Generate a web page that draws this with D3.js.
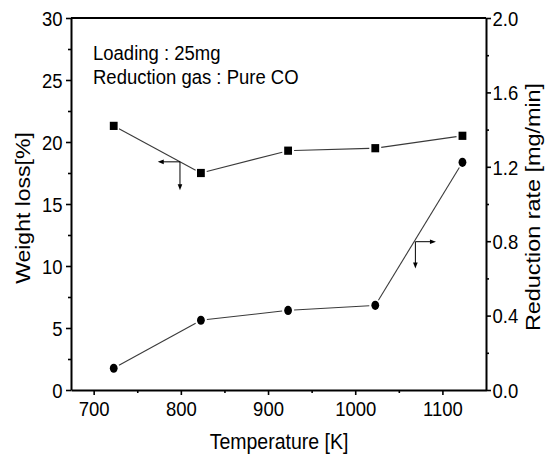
<!DOCTYPE html>
<html>
<head>
<meta charset="utf-8">
<script src="https://cdn.jsdelivr.net/npm/d3@7"></script>
<style>
  html, body { margin: 0; padding: 0; background: #fff; }
  svg { display: block; }
  text { font-family: "Liberation Sans", Arial, sans-serif; fill: #000; }
</style>
</head>
<body>
<svg id="chart" width="553" height="459"></svg>
<script>
// ---- data ----
const temperatures = [723, 823, 923, 1023, 1123];           // K
const weightLoss = [21.3, 17.5, 19.3, 19.5, 20.5];           // % (left axis)
const reductionRate = [0.117, 0.375, 0.428, 0.455, 1.224];  // mg/min (right axis)

const xTicks = [700, 800, 900, 1000, 1100];
const xMinorTicks = [750, 850, 950, 1050];
const leftTicks = [0, 5, 10, 15, 20, 25, 30];
const leftMinorTicks = [2.5, 7.5, 12.5, 17.5, 22.5, 27.5];
const rightTicks = [0, 0.4, 0.8, 1.2, 1.6, 2.0];
const rightMinorTicks = [0.2, 0.6, 1.0, 1.4, 1.8];

const annotationLines = ["Loading : 25mg", "Reduction gas : Pure CO"];
const xTitle = "Temperature [K]";
const leftTitle = "Weight loss[%]";
const rightTitle = "Reduction rate [mg/min]";

// axis-indicator arrows: corner (x in K, y in left-axis units), horizontal end x, vertical end y
const squareArrow = {x: 799, y: 18.4, hx: 773.5, vy: 16.1};
const circleArrow = {x: 1069, y: 11.96, hx: 1092.6, vy: 9.8};

// ---- layout ----
const mLeft = 71, mRight = 486, mTop = 18, mBottom = 390;
const S = 1.14; // vertical stretch of the reference text

const svg = d3.select("#chart");
const x = d3.scaleLinear().domain([674, 1150]).range([mLeft, mRight]);
const yL = d3.scaleLinear().domain([0, 30]).range([mBottom, mTop]);
const yR = d3.scaleLinear().domain([0, 2]).range([mBottom, mTop]);

function styleAxis(g, w) {
  g.select(".domain").attr("stroke", "#000").attr("stroke-width", w);
  g.selectAll(".tick line").attr("stroke", "#000").attr("stroke-width", 1.6);
}
function styleLabels(g, xPos, yPos) {
  const t = g.selectAll(".tick text").attr("font-size", 18.5).attr("dy", null)
    .attr("y", yPos).attr("transform", `scale(1,${S})`)
    .attr("font-family", "Liberation Sans, Arial, sans-serif").attr("fill", "#000");
  if (xPos !== null) t.attr("x", xPos);
}

// top frame line
svg.append("line").attr("x1", mLeft).attr("x2", mRight).attr("y1", mTop).attr("y2", mTop)
  .attr("stroke", "#000").attr("stroke-width", 2);

// bottom axis
const gx = svg.append("g").attr("transform", `translate(0,${mBottom})`)
  .call(d3.axisBottom(x).tickValues(xTicks).tickSize(5).tickSizeOuter(0).tickFormat(d3.format("d")));
styleAxis(gx, 2);
styleLabels(gx, null, 26.5 / S);
const gxm = svg.append("g").attr("transform", `translate(0,${mBottom})`)
  .call(d3.axisBottom(x).tickValues(xMinorTicks).tickSize(3).tickSizeOuter(0).tickFormat(""));
gxm.select(".domain").remove();
styleAxis(gxm, 2);

// left axis
const gy = svg.append("g").attr("transform", `translate(${mLeft},0)`)
  .call(d3.axisLeft(yL).tickValues(leftTicks).tickSize(5).tickSizeOuter(0).tickFormat(d3.format("d")));
styleAxis(gy, 2);
styleLabels(gy, -8.5, 7.2 / S);
const gym = svg.append("g").attr("transform", `translate(${mLeft},0)`)
  .call(d3.axisLeft(yL).tickValues(leftMinorTicks).tickSize(3).tickSizeOuter(0).tickFormat(""));
gym.select(".domain").remove();
styleAxis(gym, 2);

// right axis
const gr = svg.append("g").attr("transform", `translate(${mRight},0)`)
  .call(d3.axisRight(yR).tickValues(rightTicks).tickSize(5).tickSizeOuter(0).tickFormat(d3.format(".1f")));
styleAxis(gr, 2);
styleLabels(gr, 6.5, 7.2 / S);
const grm = svg.append("g").attr("transform", `translate(${mRight},0)`)
  .call(d3.axisRight(yR).tickValues(rightMinorTicks).tickSize(3).tickSizeOuter(0).tickFormat(""));
grm.select(".domain").remove();
styleAxis(grm, 2);

// ---- series ----
function gappedSegments(pts, gap) {
  const segs = [];
  for (let i = 0; i < pts.length - 1; i++) {
    const [x1, y1] = pts[i], [x2, y2] = pts[i + 1];
    const dx = x2 - x1, dy = y2 - y1, len = Math.hypot(dx, dy);
    const ux = dx / len, uy = dy / len;
    segs.push([x1 + ux * gap, y1 + uy * gap, x2 - ux * gap, y2 - uy * gap]);
  }
  return segs;
}

const sqPts = temperatures.map((t, i) => [x(t), yL(weightLoss[i])]);
const ciPts = temperatures.map((t, i) => [x(t), yR(reductionRate[i])]);

[sqPts, ciPts].forEach(pts => {
  svg.append("g").selectAll("line").data(gappedSegments(pts, 6)).join("line")
    .attr("x1", d => d[0]).attr("y1", d => d[1]).attr("x2", d => d[2]).attr("y2", d => d[3])
    .attr("stroke", "#3a3a3a").attr("stroke-width", 1.1);
});

svg.append("g").selectAll("rect").data(sqPts).join("rect")
  .attr("x", d => d[0] - 3.9).attr("y", d => d[1] - 4.1).attr("width", 7.8).attr("height", 8.2)
  .attr("fill", "#000");
svg.append("g").selectAll("ellipse").data(ciPts).join("ellipse")
  .attr("cx", d => d[0]).attr("cy", d => d[1]).attr("rx", 3.9).attr("ry", 4.6)
  .attr("fill", "#000");

// ---- axis-indicator arrows ----
function drawArrow(a) {
  const cx = x(a.x), cy = yL(a.y), hx = x(a.hx), vy = yL(a.vy);
  const g = svg.append("g");
  const dirH = Math.sign(hx - cx);
  g.append("line").attr("x1", cx).attr("y1", cy).attr("x2", hx - dirH * 4).attr("y2", cy)
    .attr("stroke", "#000").attr("stroke-width", 1);
  g.append("path").attr("d", `M${hx},${cy} L${hx - dirH * 6},${cy - 2.3} L${hx - dirH * 6},${cy + 2.3} Z`)
    .attr("fill", "#000");
  g.append("line").attr("x1", cx).attr("y1", cy).attr("x2", cx).attr("y2", vy - 4)
    .attr("stroke", "#000").attr("stroke-width", 1);
  g.append("path").attr("d", `M${cx},${vy} L${cx - 2.3},${vy - 6} L${cx + 2.3},${vy - 6} Z`)
    .attr("fill", "#000");
}
drawArrow(squareArrow);
drawArrow(circleArrow);

// ---- texts ----
const annY = [60, 83.5];
annotationLines.forEach((t, i) => {
  svg.append("text").attr("transform", `translate(93,${annY[i]}) scale(1,${S})`)
    .attr("font-size", 18.5).text(t);
});

svg.append("text").attr("transform", `translate(279,449) scale(1,${S})`)
  .attr("text-anchor", "middle").attr("font-size", 19.5).text(xTitle);

svg.append("text").attr("transform", `translate(30,${(mTop + mBottom) / 2 + 4}) rotate(-90) scale(1.18,1)`)
  .attr("text-anchor", "middle").attr("font-size", 19.5).text(leftTitle);

svg.append("text").attr("transform", `translate(539.5,${(mTop + mBottom) / 2 + 3}) rotate(-90) scale(1.2,1)`)
  .attr("text-anchor", "middle").attr("font-size", 19.5).text(rightTitle);
</script>
</body>
</html>
